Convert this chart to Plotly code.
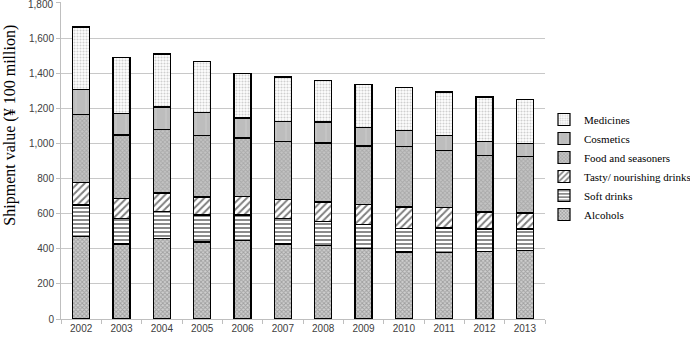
import plotly.graph_objects as go

years = ["2002", "2003", "2004", "2005", "2006", "2007", "2008", "2009", "2010", "2011", "2012", "2013"]
alcohols = [471, 427, 459, 439, 446, 427, 418, 401, 382, 378, 384, 389]
soft_drinks = [178, 146, 152, 153, 146, 144, 138, 136, 133, 140, 129, 124]
tasty_drinks = [126, 114, 107, 103, 107, 109, 110, 116, 123, 116, 96, 91]
food_seasoners = [391, 361, 359, 349, 332, 332, 336, 332, 345, 327, 321, 323]
cosmetics = [140, 123, 130, 133, 114, 114, 120, 107, 92, 85, 82, 74]
medicines = [357, 319, 302, 287, 252, 252, 236, 245, 245, 247, 252, 250]
y_ticks = [0, 200, 400, 600, 800, 1000, 1200, 1400, 1600, 1800]

series = [
    ("Alcohols", alcohols, dict(shape="x", fgcolor="#6f6f6f", bgcolor="#cfcfcf", size=3, solidity=0.5)),
    ("Soft drinks", soft_drinks, dict(shape="-", fgcolor="#000000", bgcolor="#ffffff", size=4, solidity=0.45)),
    ("Tasty/ nourishing drinks", tasty_drinks, dict(shape="/", fgcolor="#000000", bgcolor="#ffffff", size=5, solidity=0.4)),
    ("Food and seasoners", food_seasoners, dict(shape="x", fgcolor="#8c8c8c", bgcolor="#c4c4c4", size=3, solidity=0.5)),
    ("Cosmetics", cosmetics, dict(shape="|", fgcolor="#d8d8d8", bgcolor="#bdbdbd", size=10, solidity=0.1)),
    ("Medicines", medicines, dict(shape=".", fgcolor="#a0a0a0", bgcolor="#ffffff", size=3, solidity=0.4)),
]

fig = go.Figure()
for name, vals, pat in series:
    fig.add_trace(go.Bar(
        x=years, y=vals, name=name,
        marker=dict(color=pat["bgcolor"], line=dict(color="#000000", width=1.2), pattern=pat),
    ))

tick_font = dict(family="Liberation Sans", size=10, color="#404040")
top_tick = y_ticks[-1]

fig.update_layout(
    barmode="stack",
    bargap=0.58,
    width=690, height=338,
    margin=dict(l=61, r=145, t=2, b=19, autoexpand=False),
    paper_bgcolor="white", plot_bgcolor="white",
    showlegend=True,
    legend=dict(xref="container", yref="container", x=544 / 690, y=1 - 105 / 338,
                xanchor="left", yanchor="top",
                traceorder="reversed",
                font=dict(family="Liberation Serif", size=11, color="#000000"),
                itemwidth=30, tracegroupgap=0, bgcolor="rgba(0,0,0,0)"),
    font=dict(family="Liberation Sans", size=10, color="#404040"),
    annotations=[
        dict(text="Shipment value (¥ 100 million)", textangle=-90,
             xref="paper", yref="paper", x=-51 / 484, y=0.61,
             xanchor="center", yanchor="middle", showarrow=False,
             font=dict(family="Liberation Serif", size=16, color="#000000")),
        dict(text=f"{top_tick:,}", xref="paper", yref="y", x=-7 / 484, y=top_tick,
             xanchor="right", yanchor="top", yshift=5, showarrow=False, font=tick_font,
             borderpad=0),
    ],
)
fig.update_yaxes(range=[0, 1805], tickvals=y_ticks, tickformat=",", showgrid=True,
                 gridcolor="#c8c8c8", gridwidth=1, showline=True, linecolor="#bfbfbf",
                 ticks="outside", ticklen=4, tickcolor="#bfbfbf", zeroline=False,
                 tickfont=tick_font)
fig.update_xaxes(showline=True, linecolor="#bfbfbf", ticks="outside", ticklen=4,
                 tickcolor="#bfbfbf", tickson="boundaries", showgrid=False,
                 tickfont=tick_font)

fig.write_html("out.html")
